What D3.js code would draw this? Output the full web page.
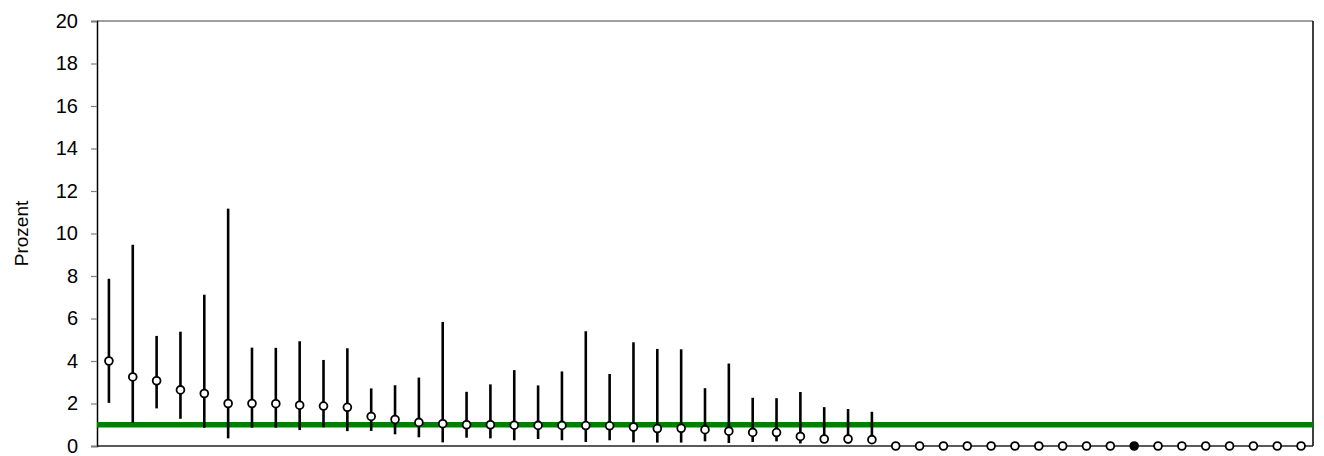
<!DOCTYPE html>
<html>
<head>
<meta charset="utf-8">
<script src="https://cdn.jsdelivr.net/npm/d3@7"></script>
<style>
  body { margin: 0; background: #fff; }
  text { font-family: Arial, "Liberation Sans", sans-serif; }
</style>
</head>
<body>
<div id="chart"></div>
<script>
// values (Prozent)
var values = [4.0, 3.25, 3.07, 2.64, 2.47, 2.0, 2.0, 1.99, 1.92, 1.88, 1.82, 1.39, 1.25, 1.11, 1.05, 1.0,
              1.0, 0.98, 0.97, 0.97, 0.96, 0.95, 0.89, 0.82, 0.83, 0.77, 0.7, 0.64, 0.63, 0.45, 0.33, 0.33, 0.3,
              0, 0, 0, 0, 0, 0, 0, 0, 0, 0, 0, 0, 0, 0, 0, 0, 0, 0]
var upper = [7.87, 9.47, 5.18, 5.38, 7.12, 11.17, 4.63, 4.62, 4.93, 4.05, 4.6, 2.71, 2.86, 3.22, 5.84, 2.55,
             2.9, 3.57, 2.85, 3.51, 5.4, 3.39, 4.88, 4.57, 4.55, 2.72, 3.88, 2.27, 2.25, 2.54, 1.83, 1.74, 1.61,
             null, null, null, null, null, null, null, null, null, null, null, null, null, null, null, null, null, null]
var lower = [2.03, 1.09, 1.77, 1.28, 0.86, 0.36, 0.86, 0.86, 0.75, 0.88, 0.7, 0.71, 0.55, 0.41, 0.17, 0.39,
             0.36, 0.27, 0.33, 0.27, 0.19, 0.27, 0.17, 0.16, 0.16, 0.22, 0.14, 0.19, 0.22, 0.12, 0.14, 0.12, 0.1,
             null, null, null, null, null, null, null, null, null, null, null, null, null, null, null, null, null, null]
var highlight = 43   // the one filled point
var reference = 1    // green line
var yTicks = [0, 2, 4, 6, 8, 10, 12, 14, 16, 18, 20]

var width = 1324, height = 456
var margin = {top: 21, right: 11, bottom: 10, left: 97}

var data = values.map(function(v, i) {
  return {i: i, value: v, hi: upper[i], lo: lower[i]}
})

var svg = d3.select("#chart").append("svg")
  .attr("width", width)
  .attr("height", height)

var x = d3.scaleBand()
  .domain(data.map(d => d.i))
  .range([margin.left, width - margin.right])

var y = d3.scaleLinear()
  .domain([0, 20])
  .range([height - margin.bottom, margin.top])

// frame
svg.append("line")
  .attr("x1", margin.left).attr("x2", width - margin.right)
  .attr("y1", margin.top).attr("y2", margin.top)
  .attr("stroke", "#7f7f7f").attr("stroke-width", 1.5)
svg.append("line")
  .attr("x1", width - margin.right).attr("x2", width - margin.right)
  .attr("y1", margin.top).attr("y2", height - margin.bottom)
  .attr("stroke", "#000").attr("stroke-width", 1.5)

// y axis
var yAxis = svg.append("g")
  .attr("transform", `translate(${margin.left},0)`)
  .call(d3.axisLeft(y).tickValues(yTicks).tickSize(6).tickPadding(13))
yAxis.select(".domain").attr("stroke", "#000").attr("stroke-width", 1.5)
yAxis.selectAll(".tick line").attr("stroke", "#7f7f7f").attr("stroke-width", 1.2)
yAxis.selectAll(".tick text")
  .attr("font-size", 20)
  .attr("fill", "#000")
  .style("font-family", "Arial, 'Liberation Sans', sans-serif")

svg.append("text")
  .attr("transform", `translate(28,${(margin.top + height - margin.bottom) / 2}) rotate(-90)`)
  .attr("text-anchor", "middle")
  .attr("font-size", 19)
  .text("Prozent")

// bottom axis line
svg.append("line")
  .attr("x1", margin.left).attr("x2", width - margin.right)
  .attr("y1", y(0)).attr("y2", y(0))
  .attr("stroke", "#222").attr("stroke-width", 1.5)

// reference line
svg.append("line")
  .attr("x1", margin.left).attr("x2", width - margin.right)
  .attr("y1", y(reference)).attr("y2", y(reference))
  .attr("stroke", "#008000").attr("stroke-width", 5.5)

// error bars
svg.append("g")
  .selectAll("line")
  .data(data.filter(d => d.hi != null))
  .join("line")
    .attr("x1", d => x(d.i) + x.bandwidth() / 2)
    .attr("x2", d => x(d.i) + x.bandwidth() / 2)
    .attr("y1", d => y(d.lo))
    .attr("y2", d => y(d.hi))
    .attr("stroke", "#000")
    .attr("stroke-width", 2.6)

// points
svg.append("g")
  .selectAll("circle")
  .data(data)
  .join("circle")
    .attr("cx", d => x(d.i) + x.bandwidth() / 2)
    .attr("cy", d => y(d.value))
    .attr("r", 3.9)
    .attr("fill", d => d.i == highlight ? "#000" : "#fff")
    .attr("stroke", "#000")
    .attr("stroke-width", 1.8)
</script>
</body>
</html>
